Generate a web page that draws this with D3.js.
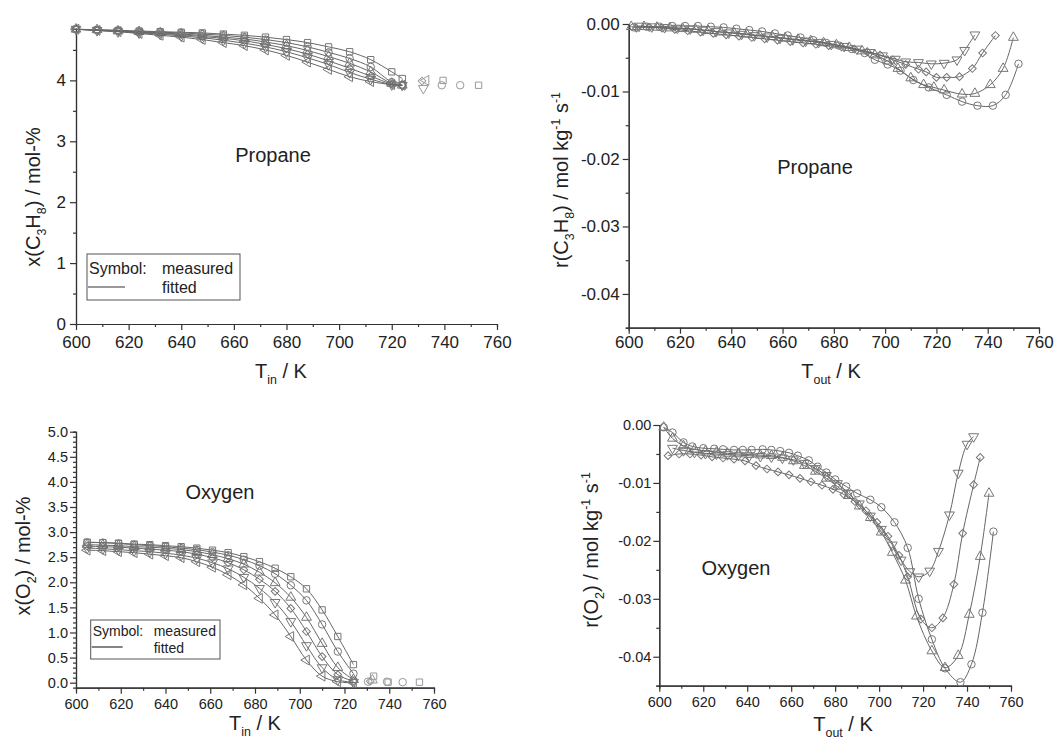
<!DOCTYPE html>
<html>
<head>
<meta charset="utf-8">
<script src="https://cdn.jsdelivr.net/npm/d3@7"></script>
<style>
  body { margin: 0; background: #fff; }
  svg text { font-family: "Liberation Sans", Arial, sans-serif; fill: #222; }
</style>
</head>
<body>
<div id="chart"></div>
<script>
// ---- data ----
// top left: propane mole fraction vs T_in
const p1Temp    = [600,608,616,624,632,640,648,656,664,672,680,688,696,704,712,720,724];
const p1Square  = [4.84,4.83,4.82,4.81,4.80,4.79,4.78,4.76,4.74,4.71,4.67,4.62,4.55,4.47,4.34,4.14,4.03];
const p1Circle  = [4.84,4.83,4.82,4.80,4.79,4.78,4.76,4.74,4.71,4.67,4.62,4.55,4.46,4.36,4.22,3.97,3.92];
const p1Up      = [4.84,4.83,4.81,4.80,4.78,4.76,4.74,4.71,4.68,4.63,4.57,4.49,4.39,4.28,4.14,3.95,3.92];
const p1Diamond = [4.84,4.82,4.81,4.79,4.77,4.75,4.72,4.69,4.65,4.59,4.52,4.43,4.32,4.20,4.07,3.94,3.92];
const p1Down    = [4.84,4.82,4.80,4.78,4.76,4.73,4.70,4.66,4.61,4.55,4.47,4.37,4.26,4.13,4.02,3.93,3.92];
const p1Left    = [4.84,4.82,4.80,4.77,4.74,4.71,4.67,4.62,4.57,4.50,4.41,4.30,4.18,4.06,3.98,3.93,3.92];
const p1ExtraTemp = [731.5,733,732,739,739.5,746,753];
const p1ExtraVal  = [3.99,4.00,3.87,3.92,4.00,3.92,3.92];
const p1ExtraSym  = ["diamond","left","down","circle","square","circle","square"];

// top right: propane rate vs T_out
const p2CircleT = [602,607,612,617,622,627,632,637,642,647,652,657,662,667,672,677,682,687,692,696,701,706,711,717,724,730,736,742,747,752];
const p2CircleR = [-0.0005,-0.0004,-0.0004,-0.0003,-0.0003,-0.0003,-0.0004,-0.0005,-0.0007,-0.0009,-0.0011,-0.0014,-0.0017,-0.0020,-0.0024,-0.0028,-0.0032,-0.0037,-0.0043,-0.0053,-0.0060,-0.0069,-0.0083,-0.0094,-0.0105,-0.0115,-0.0121,-0.0121,-0.0105,-0.0059];
const p2UpT = [601,606,611,616,621,626,631,636,641,646,651,656,661,666,671,676,681,686,691,696,701,705,710,715,719,723,730,735,741,746,750];
const p2UpR = [-0.0004,-0.0004,-0.0005,-0.0006,-0.0007,-0.0008,-0.0010,-0.0012,-0.0013,-0.0015,-0.0017,-0.0019,-0.0021,-0.0023,-0.0025,-0.0028,-0.0031,-0.0035,-0.0040,-0.0046,-0.0055,-0.0066,-0.0080,-0.0090,-0.0094,-0.0098,-0.0104,-0.0103,-0.0090,-0.0066,-0.0020];
const p2DiamondT = [603,608,613,618,623,628,633,638,643,648,653,658,663,668,673,678,683,688,693,698,703,708,713,716,720,724,729,734,738,743];
const p2DiamondR = [-0.0006,-0.0005,-0.0006,-0.0008,-0.0010,-0.0012,-0.0014,-0.0016,-0.0018,-0.0020,-0.0022,-0.0024,-0.0026,-0.0028,-0.0030,-0.0032,-0.0034,-0.0037,-0.0041,-0.0046,-0.0053,-0.0060,-0.0067,-0.0071,-0.0079,-0.0079,-0.0078,-0.0066,-0.0043,-0.0017];
const p2DownT = [604,609,614,619,624,629,634,639,644,649,654,659,664,669,674,679,684,689,694,699,704,708,713,718,723,728,731,735];
const p2DownR = [-0.0003,-0.0004,-0.0005,-0.0006,-0.0007,-0.0009,-0.0011,-0.0013,-0.0015,-0.0017,-0.0019,-0.0021,-0.0023,-0.0025,-0.0027,-0.0030,-0.0033,-0.0037,-0.0042,-0.0047,-0.0052,-0.0056,-0.0057,-0.0059,-0.0058,-0.0053,-0.0039,-0.0016];

// bottom left: oxygen mole fraction vs T_in
const p3Temp    = [605,612,619,626,633,640,647,654,661,668,675,682,689,696,703,710,717,724];
const p3Square  = [2.80,2.79,2.78,2.76,2.75,2.73,2.71,2.68,2.64,2.59,2.51,2.41,2.28,2.11,1.87,1.45,0.92,0.36];
const p3Circle  = [2.79,2.79,2.77,2.75,2.73,2.71,2.68,2.65,2.60,2.54,2.45,2.33,2.17,1.94,1.64,1.16,0.62,0.18];
const p3Up      = [2.75,2.74,2.73,2.71,2.70,2.68,2.65,2.61,2.55,2.47,2.36,2.20,1.99,1.70,1.30,0.78,0.30,0.06];
const p3Diamond = [2.72,2.71,2.70,2.68,2.66,2.64,2.61,2.56,2.49,2.39,2.25,2.06,1.82,1.48,1.02,0.52,0.16,0.03];
const p3Down    = [2.68,2.67,2.65,2.63,2.61,2.58,2.54,2.48,2.39,2.27,2.10,1.88,1.60,1.22,0.74,0.30,0.06,0.01];
const p3Left    = [2.64,2.63,2.61,2.59,2.56,2.53,2.49,2.41,2.30,2.15,1.95,1.68,1.35,0.92,0.45,0.13,0.02,0.00];
const p3ExtraTemp = [730.5,731.5,733,732.5,739,739.5,746,753.5];
const p3ExtraVal  = [0.02,0.03,0.13,0.05,0.02,0.01,0.01,0.01];
const p3ExtraSym  = ["circle","diamond","square","up","circle","square","circle","square"];

// bottom right: oxygen rate vs T_out
const p4CircleT = [602,606,611,615,620,625,629,634,638,642,647,651,655,659,663,668,672,676,680,685,690,696,701,707,713,718,724,730,737,742,747,752];
const p4CircleR = [-0.0004,-0.0013,-0.0030,-0.0037,-0.0040,-0.0041,-0.0042,-0.0043,-0.0043,-0.0043,-0.0042,-0.0043,-0.0045,-0.0048,-0.0053,-0.0061,-0.0072,-0.0082,-0.0094,-0.0106,-0.0118,-0.0129,-0.0142,-0.0168,-0.0212,-0.0300,-0.0370,-0.0420,-0.0444,-0.0413,-0.0324,-0.0184];
const p4UpT = [602,606,611,616,621,626,631,636,641,646,651,656,661,666,671,676,681,686,691,696,701,706,712,717,724,730,736,741,746,750];
const p4UpR = [-0.0004,-0.0023,-0.0036,-0.0042,-0.0045,-0.0047,-0.0049,-0.0050,-0.0051,-0.0052,-0.0053,-0.0056,-0.0062,-0.0070,-0.0080,-0.0092,-0.0106,-0.0122,-0.0140,-0.0160,-0.0185,-0.0220,-0.0268,-0.0330,-0.0390,-0.0419,-0.0398,-0.0327,-0.0227,-0.0118];
const p4DiamondT = [604,609,614,619,624,629,634,639,644,649,654,659,664,669,674,679,684,689,694,699,704,709,713,719,724,729,734,738,743,746];
const p4DiamondR = [-0.0053,-0.0050,-0.0050,-0.0052,-0.0055,-0.0057,-0.0059,-0.0062,-0.0070,-0.0076,-0.0081,-0.0086,-0.0092,-0.0098,-0.0104,-0.0111,-0.0120,-0.0132,-0.0148,-0.0168,-0.0192,-0.0225,-0.0262,-0.0335,-0.0350,-0.0333,-0.0275,-0.0187,-0.0103,-0.0056];
const p4DownT = [606,611,616,621,626,631,636,641,646,651,656,661,666,671,676,681,686,691,696,701,706,710,714,718,723,727,732,736,740,743];
const p4DownR = [-0.0040,-0.0044,-0.0047,-0.0049,-0.0050,-0.0051,-0.0052,-0.0053,-0.0054,-0.0055,-0.0057,-0.0060,-0.0066,-0.0075,-0.0087,-0.0101,-0.0118,-0.0136,-0.0157,-0.0180,-0.0207,-0.0233,-0.0253,-0.0262,-0.0252,-0.0218,-0.0155,-0.0083,-0.0033,-0.0020];

// ticks
const xTicks   = [600,620,640,660,680,700,720,740,760];
const p1YTicks = [0,1,2,3,4];
const p2YTicks = [0,-0.01,-0.02,-0.03,-0.04];
const p3YTicks = [0,0.5,1,1.5,2,2.5,3,3.5,4,4.5,5];
const p4YTicks = [0,-0.01,-0.02,-0.03,-0.04];

// ---- drawing ----
const svg = d3.select("#chart").append("svg")
    .attr("width", 1062)
    .attr("height", 740);

const axisColor = "#333";
const lineColor = "#666";
const symColor = "#777";

const symbols = {
    square:  {path: d3.symbol(d3.symbolSquare, 40)(), rot: 0},
    circle:  {path: d3.symbol(d3.symbolCircle, 44)(), rot: 0},
    up:      {path: d3.symbol(d3.symbolTriangle, 42)(), rot: 0},
    down:    {path: d3.symbol(d3.symbolTriangle, 42)(), rot: 180},
    left:    {path: d3.symbol(d3.symbolTriangle, 42)(), rot: -90},
    diamond: {path: d3.symbol(d3.symbolSquare, 30)(), rot: 45}
};

// text with sub/superscripts, parts = [[string, "sub"|"sup"|""], ...]
function richText(g, x, y, parts, size, rotate) {
    const t = g.append("text")
        .attr("text-anchor", "middle")
        .attr("font-size", size)
        .attr("transform", `translate(${x},${y})` + (rotate ? " rotate(-90)" : ""));
    let shift = 0;
    parts.forEach(([s, kind]) => {
        const target = kind === "sub" ? size * 0.3 : kind === "sup" ? -size * 0.42 : 0;
        t.append("tspan")
            .attr("dy", target - shift)
            .attr("font-size", kind ? size * 0.62 : size)
            .text(s);
        shift = target;
    });
}

function panel(o) {
    const x = d3.scaleLinear().domain([600, 760]).range([o.left, o.right]);
    const y = d3.scaleLinear().domain(o.yDomain).range([o.bottom, o.top]);
    const g = svg.append("g");

    const clipId = "clip" + o.id;
    g.append("clipPath").attr("id", clipId)
        .append("rect")
        .attr("x", o.left).attr("y", o.top)
        .attr("width", o.right - o.left).attr("height", o.bottom - o.top);

    // minor ticks
    g.append("g")
        .attr("transform", `translate(0,${o.bottom})`)
        .call(d3.axisBottom(x).tickValues(d3.range(610, 760, 20)).tickSize(3).tickFormat(""));
    g.append("g")
        .attr("transform", `translate(${o.left},0)`)
        .call(d3.axisLeft(y).tickValues(o.yMinor).tickSize(3).tickFormat(""));

    // major ticks
    g.append("g")
        .attr("transform", `translate(0,${o.bottom})`)
        .call(d3.axisBottom(x).tickValues(xTicks).tickSize(6).tickSizeOuter(0)
            .tickPadding(o.xPad).tickFormat(d3.format("d")))
        .call(a => a.selectAll("text").attr("font-size", o.tickFont).attr("fill", "#222"));
    g.append("g")
        .attr("transform", `translate(${o.left},0)`)
        .call(d3.axisLeft(y).tickValues(o.yTicks).tickSize(6).tickSizeOuter(0)
            .tickPadding(o.yPad).tickFormat(o.yFormat))
        .call(a => a.selectAll("text").attr("font-size", o.tickFont).attr("fill", "#222"));

    g.selectAll(".domain, .tick line").attr("stroke", axisColor).attr("stroke-width", 1.2);
    g.selectAll("text").attr("font-family", "Liberation Sans, Arial, sans-serif");

    // fitted lines
    const line = d3.line()
        .x(d => x(d[0]))
        .y(d => y(d[1]))
        .curve(d3.curveCatmullRom.alpha(0.5));

    o.series.forEach(s => {
        const pts = s.t.map((t, i) => [t, s.v[i]]);
        g.append("path")
            .datum(pts)
            .attr("clip-path", `url(#${clipId})`)
            .attr("fill", "none")
            .attr("stroke", lineColor)
            .attr("stroke-width", 1)
            .attr("d", line);
        g.append("g").selectAll("path")
            .data(pts)
            .join("path")
            .attr("d", symbols[s.sym].path)
            .attr("transform", d => `translate(${x(d[0])},${y(d[1])}) rotate(${symbols[s.sym].rot})`)
            .attr("fill", "none")
            .attr("stroke", symColor)
            .attr("stroke-width", 1);
    });

    // measured points without fit
    if (o.extra) {
        g.append("g").selectAll("path")
            .data(o.extra.t.map((t, i) => [t, o.extra.v[i], o.extra.s[i]]))
            .join("path")
            .attr("d", d => symbols[d[2]].path)
            .attr("transform", d => `translate(${x(d[0])},${y(d[1])}) rotate(${symbols[d[2]].rot})`)
            .attr("fill", "none")
            .attr("stroke", "#999")
            .attr("stroke-width", 1);
    }

    // labels
    richText(g, o.yLabel.x, o.yLabel.y, o.yLabel.parts, o.labelFont, true);
    richText(g, o.xLabel.x, o.xLabel.y, o.xLabel.parts, o.labelFont, false);
    g.append("text")
        .attr("x", o.title.x).attr("y", o.title.y)
        .attr("text-anchor", "middle")
        .attr("font-size", o.labelFont)
        .text(o.title.text);

    // legend box
    if (o.legend) {
        const L = o.legend;
        g.append("rect")
            .attr("x", L.x).attr("y", L.y).attr("width", L.w).attr("height", L.h)
            .attr("fill", "none").attr("stroke", "#555").attr("stroke-width", 1);
        g.append("text").attr("x", L.x + 2).attr("y", L.y + L.row1)
            .attr("font-size", L.font).text("Symbol:");
        g.append("text").attr("x", L.x + L.col).attr("y", L.y + L.row1)
            .attr("font-size", L.font).text("measured");
        g.append("line")
            .attr("x1", L.x + 1).attr("x2", L.x + L.lineLen)
            .attr("y1", L.y + L.lineY).attr("y2", L.y + L.lineY)
            .attr("stroke", "#333").attr("stroke-width", 1.2);
        g.append("text").attr("x", L.x + L.col).attr("y", L.y + L.row2)
            .attr("font-size", L.font).text("fitted");
    }
}

const fmt2 = d => d === 0 ? "0.00" : d.toFixed(2);

panel({
    id: 1, left: 76, right: 497, top: 28.6, bottom: 324,
    yDomain: [0, 4.85], yTicks: p1YTicks, yMinor: [0.5, 1.5, 2.5, 3.5, 4.5],
    yFormat: d3.format("d"), tickFont: 17, labelFont: 20, xPad: 6, yPad: 4,
    series: [
        {sym: "square", t: p1Temp, v: p1Square},
        {sym: "circle", t: p1Temp, v: p1Circle},
        {sym: "up", t: p1Temp, v: p1Up},
        {sym: "diamond", t: p1Temp, v: p1Diamond},
        {sym: "down", t: p1Temp, v: p1Down},
        {sym: "left", t: p1Temp, v: p1Left}
    ],
    extra: {t: p1ExtraTemp, v: p1ExtraVal, s: p1ExtraSym},
    yLabel: {x: 40, y: 197, parts: [["x(C", ""], ["3", "sub"], ["H", ""], ["8", "sub"], [") / mol-%", ""]]},
    xLabel: {x: 281, y: 378, parts: [["T", ""], ["in", "sub"], [" / K", ""]]},
    title: {x: 273, y: 162, text: "Propane"},
    legend: {x: 87, y: 254, w: 153, h: 46, font: 16, row1: 20, row2: 39, col: 75, lineY: 33, lineLen: 38}
});

panel({
    id: 2, left: 628.7, right: 1039, top: 24, bottom: 327.7,
    yDomain: [-0.045, 0], yTicks: p2YTicks, yMinor: [-0.005, -0.015, -0.025, -0.035, -0.045],
    yFormat: fmt2, tickFont: 17, labelFont: 20, xPad: 2, yPad: 3,
    series: [
        {sym: "circle", t: p2CircleT, v: p2CircleR},
        {sym: "up", t: p2UpT, v: p2UpR},
        {sym: "diamond", t: p2DiamondT, v: p2DiamondR},
        {sym: "down", t: p2DownT, v: p2DownR}
    ],
    yLabel: {x: 568, y: 180, parts: [["r(C", ""], ["3", "sub"], ["H", ""], ["8", "sub"], [") / mol kg", ""], ["-1", "sup"], [" s", ""], ["-1", "sup"]]},
    xLabel: {x: 831, y: 378, parts: [["T", ""], ["out", "sub"], [" / K", ""]]},
    title: {x: 815, y: 174, text: "Propane"}
});

panel({
    id: 3, left: 76, right: 434, top: 431.7, bottom: 687.7,
    yDomain: [-0.1, 5.0], yTicks: p3YTicks, yMinor: d3.range(1, 50).filter(i => i % 5 !== 0).map(i => i / 10),
    yFormat: d3.format(".1f"), tickFont: 14.5, labelFont: 20, xPad: 5, yPad: 2,
    series: [
        {sym: "square", t: p3Temp, v: p3Square},
        {sym: "circle", t: p3Temp, v: p3Circle},
        {sym: "up", t: p3Temp, v: p3Up},
        {sym: "diamond", t: p3Temp, v: p3Diamond},
        {sym: "down", t: p3Temp, v: p3Down},
        {sym: "left", t: p3Temp, v: p3Left}
    ],
    extra: {t: p3ExtraTemp, v: p3ExtraVal, s: p3ExtraSym},
    yLabel: {x: 30, y: 556, parts: [["x(O", ""], ["2", "sub"], [") / mol-%", ""]]},
    xLabel: {x: 255, y: 730, parts: [["T", ""], ["in", "sub"], [" / K", ""]]},
    title: {x: 220, y: 499, text: "Oxygen"},
    legend: {x: 90.7, y: 620, w: 129.3, h: 39, font: 14, row1: 16, row2: 33, col: 63, lineY: 27, lineLen: 32}
});

panel({
    id: 4, left: 659.3, right: 1011, top: 425, bottom: 685.7,
    yDomain: [-0.045, 0], yTicks: p4YTicks, yMinor: [-0.005, -0.015, -0.025, -0.035, -0.045],
    yFormat: fmt2, tickFont: 14.5, labelFont: 20, xPad: 5, yPad: 2,
    series: [
        {sym: "circle", t: p4CircleT, v: p4CircleR},
        {sym: "up", t: p4UpT, v: p4UpR},
        {sym: "diamond", t: p4DiamondT, v: p4DiamondR},
        {sym: "down", t: p4DownT, v: p4DownR}
    ],
    yLabel: {x: 598, y: 550, parts: [["r(O", ""], ["2", "sub"], [") / mol kg", ""], ["-1", "sup"], [" s", ""], ["-1", "sup"]]},
    xLabel: {x: 843, y: 731, parts: [["T", ""], ["out", "sub"], [" / K", ""]]},
    title: {x: 736, y: 575, text: "Oxygen"}
});
</script>
</body>
</html>
